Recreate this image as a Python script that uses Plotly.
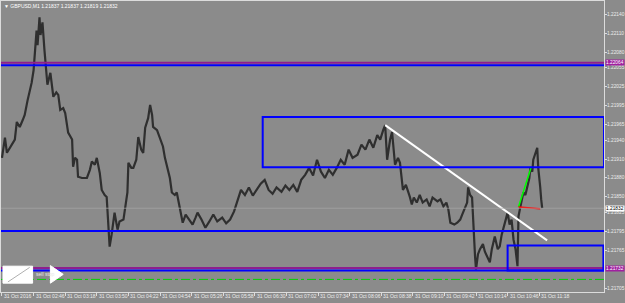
import plotly.graph_objects as go

# ---- data ----
bar_index = [0,2,3,5,8,10,13,15,18,21,23,26,28,30,32,33,35,36,38,39,41,43,44,46,49,52,55,57,59,62,
             64,67,71,72,74,76,77,81,86,89,91,94,96,99,101,104,106,107,109,111,114,117,119,123,125,127,128,131,133,136,
             138,141,143,145,148,150,152,153,157,160,163,165,168,170,172,175,177,180,183,186,188,191,193,196,198,202,206,210,214,218,
             223,227,231,235,239,242,246,250,254,258,262,266,270,274,278,283,287,291,295,299,303,307,311,315,319,323,327,331,335,339,
             343,347,351,355,360,364,368,372,376,380,383,386,388,390,393,395,398,401,403,406,409,413,415,417,420,423,426,430,433,436,
             441,444,447,450,452,454,458,461,464,466,469,471,472,474,476,477,479,480,482,484,487,489,491,494,496,499,502,504,506,509,
             512,514,516,518,520,522,523,525,528,530,532,534,535,537,538,540,542,543,544,545,546,547]
price = [1.21912,1.21933,1.21944,1.21920,1.21928,1.21933,1.21941,1.21969,1.21961,1.21972,1.21980,1.22004,1.22016,1.22031,1.22051,1.22075,1.22114,1.22091,1.22135,1.22107,
         1.22127,1.22083,1.22067,1.22028,1.22047,1.22009,1.22016,1.22012,1.21988,1.21991,1.21983,1.21952,1.21941,1.21898,1.21912,1.21909,1.21882,1.21880,1.21880,1.21893,
         1.21906,1.21901,1.21912,1.21888,1.21861,1.21853,1.21850,1.21819,1.21771,1.21790,1.21825,1.21798,1.21811,1.21814,1.21838,1.21857,1.21904,1.21896,1.21896,1.21909,
         1.21945,1.21925,1.21920,1.21960,1.21975,1.21996,1.21980,1.21961,1.21956,1.21941,1.21930,1.21912,1.21893,1.21880,1.21857,1.21853,1.21857,1.21835,1.21809,1.21822,
         1.21817,1.21811,1.21806,1.21817,1.21825,1.21814,1.21801,1.21811,1.21822,1.21811,1.21817,1.21808,1.21814,1.21827,1.21846,1.21861,1.21853,1.21865,1.21852,1.21861,
         1.21871,1.21877,1.21861,1.21855,1.21865,1.21858,1.21868,1.21861,1.21869,1.21858,1.21877,1.21885,1.21896,1.21884,1.21909,1.21890,1.21880,1.21893,1.21885,1.21896,
         1.21909,1.21901,1.21925,1.21912,1.21917,1.21933,1.21925,1.21941,1.21928,1.21948,1.21941,1.21956,1.21964,1.21909,1.21941,1.21953,1.21901,1.21912,1.21904,1.21861,
         1.21869,1.21850,1.21838,1.21849,1.21841,1.21853,1.21841,1.21846,1.21835,1.21849,1.21843,1.21846,1.21835,1.21841,1.21830,1.21809,1.21806,1.21809,1.21814,1.21822,
         1.21833,1.21841,1.21865,1.21853,1.21849,1.21809,1.21756,1.21735,1.21759,1.21767,1.21775,1.21763,1.21756,1.21746,1.21767,1.21787,1.21767,1.21771,1.21790,1.21809,
         1.21825,1.21806,1.21814,1.21782,1.21767,1.21740,1.21819,1.21835,1.21857,1.21853,1.21866,1.21880,1.21896,1.21890,1.21909,1.21917,1.21928,1.21896,1.21885,1.21866,
         1.21846,1.21832]

x_tick_bars = [0,32,64,96,128,160,192,224,256,288,320,352,384,416,448,480,512,544]
x_tick_labels = ["31 Oct 2016","31 Oct 02:46","31 Oct 03:18","31 Oct 03:50","31 Oct 04:22",
                 "31 Oct 04:54","31 Oct 05:26","31 Oct 05:58","31 Oct 06:30","31 Oct 07:02",
                 "31 Oct 07:34","31 Oct 08:06","31 Oct 08:38","31 Oct 09:10","31 Oct 09:42",
                 "31 Oct 10:14","31 Oct 10:46","31 Oct 11:18"]
y_tick_values = [1.22140,1.22110,1.22080,1.22055,1.22025,1.21995,1.21965,1.21940,
                 1.21910,1.21880,1.21850,1.21825,1.21795,1.21765,1.21705]

blue_levels = [1.22059, 1.21796, 1.21733]
purple_levels = [1.22063, 1.21737]
green_level = 1.21719
bid_price = 1.21832
rect_zones = [(264, 609.6, 1.21897, 1.21977), (512, 609, 1.21733, 1.21773)]
trend_white = ([388, 552], [1.21964, 1.21781])
trend_green = ([523, 536], [1.21834, 1.21898])
trend_red = ([523, 545], [1.21834, 1.21831])
title_text = "\u25bc GBPUSD,M1 1.21837 1.21837 1.21819 1.21832"

X_RANGE = [-1, 609.6]
Y_RANGE = [1.21699, 1.22161]
BG = "#8b8b8b"
FONT = "Liberation Sans"
LBL = "#ececec"

fig = go.Figure()

shapes = []
for lv in purple_levels:
    shapes.append(dict(type="line", xref="paper", x0=0, x1=1, yref="y", y0=lv, y1=lv,
                       line=dict(color="#8e1f8e", width=2)))
for lv in blue_levels:
    shapes.append(dict(type="line", xref="paper", x0=0, x1=1, yref="y", y0=lv, y1=lv,
                       line=dict(color="#0000ff", width=2)))
shapes.append(dict(type="line", xref="paper", x0=0, x1=1, yref="y", y0=green_level, y1=green_level,
                   line=dict(color="#00d000", width=1, dash="dashdot")))
shapes.append(dict(type="line", xref="paper", x0=0, x1=1, yref="y", y0=bid_price, y1=bid_price,
                   line=dict(color="rgba(170,170,170,0.7)", width=1)))
for (xa, xb, ya, yb) in rect_zones:
    shapes.append(dict(type="rect", xref="x", x0=xa, x1=xb, yref="y", y0=ya, y1=yb,
                       line=dict(color="#0000ff", width=2), fillcolor="rgba(0,0,0,0)"))
shapes.append(dict(type="rect", xref="x", x0=1, x1=31, yref="y", y0=1.21713, y1=1.21740,
                   line=dict(color="white", width=1), fillcolor="white", layer="above"))
shapes.append(dict(type="line", xref="x", x0=6, x1=28, yref="y", y0=1.21715, y1=1.21738,
                   line=dict(color="#b0b0b0", width=1)))
shapes.append(dict(type="path", xref="x", yref="y",
                   path="M 49,1.21741 L 62,1.21727 L 49,1.21713 Z",
                   line=dict(color="white", width=1), fillcolor="white"))
fig.update_layout(shapes=shapes)

fig.add_trace(go.Scatter(x=bar_index, y=price, mode="lines",
                         line=dict(color="#2f2f2f", width=2.2), hoverinfo="skip"))
for tx, ty, col, w in [(trend_white[0], trend_white[1], "white", 2),
                       (trend_green[0], trend_green[1], "#00ff00", 1.5),
                       (trend_red[0], trend_red[1], "#ff0000", 1.5)]:
    fig.add_trace(go.Scatter(x=tx, y=ty, mode="lines", line=dict(color=col, width=w),
                             hoverinfo="skip"))

ann = [
    dict(text=title_text, xref="paper", yref="paper", x=0.003, y=0.997, xanchor="left", yanchor="top",
         showarrow=False, borderpad=0, font=dict(family=FONT, size=5, color="white")),
    dict(text="sell stop", xref="x", yref="y", x=32, y=1.21727, xanchor="left", yanchor="middle",
         showarrow=False, font=dict(family=FONT, size=5, color="#e8e8e8")),
]
for b, t in zip(x_tick_bars, x_tick_labels):
    ann.append(dict(text=t, xref="x", yref="paper", x=b, y=0, xanchor="left", yanchor="top",
                    xshift=1, yshift=0, showarrow=False, borderpad=0,
                    font=dict(family=FONT, size=5, color=LBL)))
for v in y_tick_values:
    ann.append(dict(text=f"{v:.5f}", xref="paper", yref="y", x=1, y=v, xanchor="left", yanchor="middle",
                    xshift=2, showarrow=False, borderpad=0,
                    font=dict(family=FONT, size=4.8, color=LBL)))
for val, txt, bg, fc in [(purple_levels[0], "1.22064", "#a020a0", "white"),
                         (bid_price, "1.21832", "white", "black"),
                         (purple_levels[1], "1.21732", "#a020a0", "white")]:
    ann.append(dict(text=txt, xref="paper", yref="y", x=1, y=val, xanchor="left", yanchor="middle",
                    xshift=1, showarrow=False, bgcolor=bg, borderpad=0,
                    font=dict(family=FONT, size=4.8, color=fc)))
fig.update_layout(annotations=ann)

fig.update_layout(
    width=625, height=303, autosize=False,
    margin=dict(l=1, r=21, t=1, b=11),
    paper_bgcolor=BG, plot_bgcolor=BG,
    showlegend=False,
    xaxis=dict(range=X_RANGE, tickvals=x_tick_bars, showticklabels=False,
               ticks="outside", ticklen=3, tickcolor="#dcdcdc",
               showgrid=False, zeroline=False, showline=True, linecolor="#dcdcdc", linewidth=1,
               mirror=True, automargin=False),
    yaxis=dict(range=Y_RANGE, side="right", tickvals=y_tick_values, showticklabels=False,
               ticks="outside", ticklen=2, tickcolor="#dcdcdc",
               showgrid=False, zeroline=False, showline=True, linecolor="#dcdcdc", linewidth=1,
               mirror=True, automargin=False),
)

fig.write_html("out.html")
